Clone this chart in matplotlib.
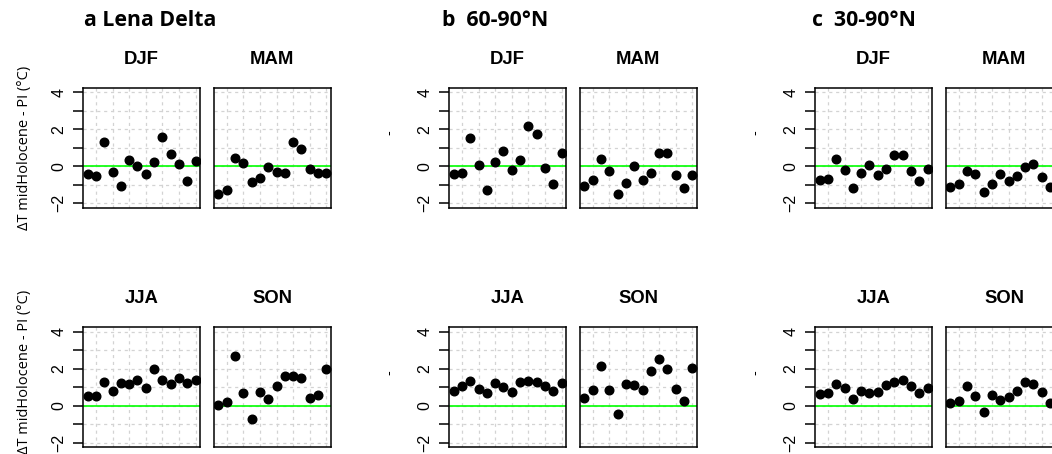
import matplotlib
matplotlib.use("Agg")
import matplotlib.pyplot as plt
from matplotlib.ticker import FixedLocator

plt.rcParams["font.family"] = ["Liberation Sans", "DejaVu Sans"]

# model index on the x axis (14 models)
models = list(range(1, 15))
seasons = ["DJF", "MAM", "JJA", "SON"]
regions = ["a Lena Delta", "b  60-90°N", "c  30-90°N"]
ylabels = ["ΔT midHolocene - PI (°C)", "-", "-"]

# dT midHolocene - PI per model (°C)
lena_djf = [-0.40, -0.54, 1.29, -0.31, -1.07, 0.36, 0.00, -0.42, 0.22, 1.57, 0.65, 0.13, -0.81, 0.27]
lena_mam = [-1.50, -1.30, 0.47, 0.20, -0.87, -0.62, -0.04, -0.33, -0.38, 1.29, 0.92, -0.14, -0.38, -0.36]
lena_jja = [0.50, 0.54, 1.30, 0.81, 1.24, 1.15, 1.37, 0.94, 1.96, 1.39, 1.19, 1.48, 1.21, 1.41]
lena_son = [0.04, 0.20, 2.68, 0.67, -0.74, 0.74, 0.34, 1.08, 1.62, 1.62, 1.51, 0.43, 0.58, 1.96]

n60_djf = [-0.42, -0.38, 1.56, 0.07, -1.30, 0.22, 0.81, -0.20, 0.33, 2.17, 1.76, -0.07, -0.98, 0.72]
n60_mam = [-1.05, -0.76, 0.40, -0.24, -1.48, -0.92, 0.00, -0.76, -0.38, 0.74, 0.74, -0.49, -1.18, -0.49]
n60_jja = [0.77, 1.05, 1.35, 0.90, 0.67, 1.21, 1.03, 0.76, 1.28, 1.33, 1.26, 1.06, 0.77, 1.21]
n60_son = [0.40, 0.85, 2.16, 0.83, -0.43, 1.15, 1.12, 0.85, 1.87, 2.50, 1.98, 0.92, 0.27, 2.05]

n30_djf = [-0.74, -0.67, 0.42, -0.18, -1.19, -0.34, 0.07, -0.45, -0.16, 0.60, 0.60, -0.27, -0.81, -0.13]
n30_mam = [-1.12, -0.96, -0.24, -0.43, -1.39, -0.94, -0.40, -0.81, -0.52, -0.02, 0.14, -0.60, -1.14, -1.00]
n30_jja = [0.61, 0.70, 1.17, 0.97, 0.36, 0.81, 0.67, 0.72, 1.10, 1.26, 1.41, 1.06, 0.67, 0.94]
n30_son = [0.13, 0.23, 1.08, 0.50, -0.36, 0.59, 0.29, 0.45, 0.81, 1.26, 1.15, 0.74, 0.15, 0.50]

data = [
    [lena_djf, lena_mam, lena_jja, lena_son],
    [n60_djf, n60_mam, n60_jja, n60_son],
    [n30_djf, n30_mam, n30_jja, n30_son],
]

W, H = 1052, 454
fig = plt.figure(figsize=(W / 100, H / 100), dpi=100)

# panel layout in pixels
group_x = [83.3, 449.3, 815.3]
col_off = [0, 130.7]
row_top = [88, 327.3]
pw, ph = 116.7, 119.7
title_x = [84, 442, 812]
ylab_y = [148, 372]
dash_y = [133, 373]

for g in range(3):
    fig.text(title_x[g] / W, 1 - 21 / H, regions[g], ha="left", va="center",
             fontsize=15.3, fontweight="bold", family="Open Sans")
    for s in range(4):
        r, c = divmod(s, 2)
        left = group_x[g] + col_off[c]
        top = row_top[r]
        ax = fig.add_axes([left / W, 1 - (top + ph) / H, pw / W, ph / H])
        ax.set_xlim(0.48, 14.52)
        ax.set_ylim(-2.24, 4.24)
        for v in range(-2, 5):
            ax.axhline(v, color="#d3d3d3", lw=0.9, ls=(0, (2.5, 3)), zorder=0)
        for v in range(2, 15, 2):
            ax.axvline(v, color="#d3d3d3", lw=0.9, ls=(0, (2.5, 3)), zorder=0)
        ax.axhline(0, color="#00ff00", lw=1.2, zorder=1)
        ax.plot(models, data[g][s], "o", color="black", markersize=6.2, zorder=2)
        ax.set_xticks([])
        ax.yaxis.set_major_locator(FixedLocator([-2, 0, 2, 4]))
        ax.yaxis.set_minor_locator(FixedLocator([-1, 1, 3]))
        ax.tick_params(axis="y", which="both", length=7, width=1.1, direction="out",
                       labelrotation=90, labelsize=11.5, pad=5)
        if c == 1:
            ax.tick_params(axis="y", which="both", left=False, labelleft=False)
        for lab in ax.get_yticklabels():
            lab.set_va("center")
        for sp in ax.spines.values():
            sp.set_linewidth(1.1)
        ax.text(0.5, 1 + 28.5 / ph, seasons[s], transform=ax.transAxes, ha="center",
                va="center", fontsize=13.3, fontweight="bold")
        if c == 0:
            lx = left - 59
            if g == 0:
                fig.text(lx / W, 1 - ylab_y[r] / H, ylabels[g], rotation=90,
                         ha="center", va="center", fontsize=10.5, family="Open Sans")
            else:
                fig.text(lx / W, 1 - dash_y[r] / H, ylabels[g], rotation=90,
                         ha="center", va="center", fontsize=10.5, family="Open Sans")

fig.savefig("out.png", dpi=100)
